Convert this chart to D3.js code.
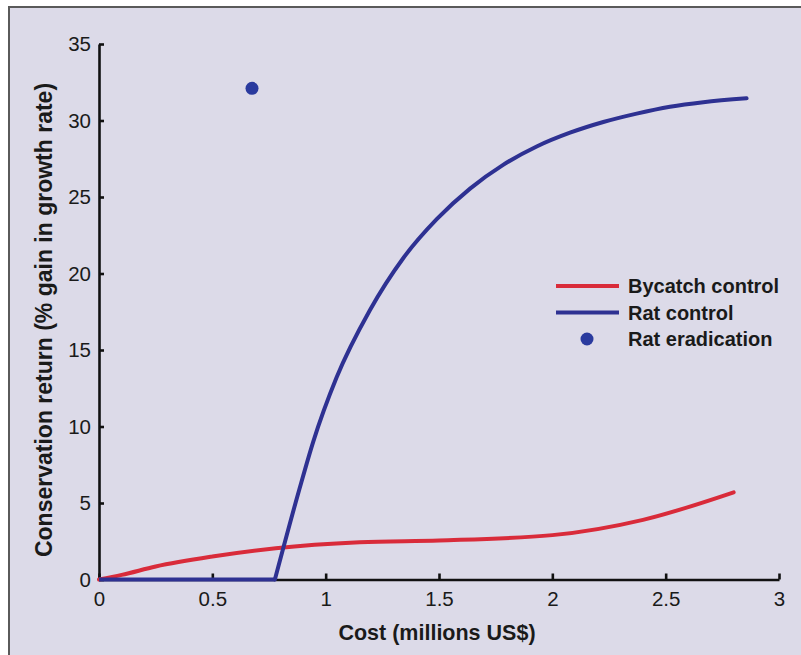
<!DOCTYPE html>
<html>
<head>
<meta charset="utf-8">
<script src="https://cdn.jsdelivr.net/npm/d3@7/dist/d3.min.js"></script>
<style>
  html, body { margin: 0; padding: 0; background: #ffffff; }
  svg { display: block; }
  text { font-family: "Liberation Sans", Arial, Helvetica, sans-serif; fill: #1a1a1a; }
</style>
</head>
<body>
<svg id="chart" width="801" height="655"></svg>
<script>
// ---- data ----
const bycatchX = [0, 0.1, 0.25, 0.5, 0.78, 1.15, 1.5, 2.0, 2.4, 2.8];
const bycatchY = [0, 0.3, 0.85, 1.5, 2.04, 2.43, 2.55, 2.9, 3.9, 5.7];

const ratFlatX = [0, 0.776];
const ratFlatY = [0, 0];
const ratX = [0.776, 0.884, 0.945, 1.048, 1.195, 1.342, 1.49, 1.637, 1.783, 1.931, 2.078, 2.225, 2.372, 2.519, 2.666, 2.857];
const ratY = [0, 5.9, 9.0, 13.2, 17.6, 21.0, 23.55, 25.55, 27.1, 28.3, 29.2, 29.9, 30.45, 30.9, 31.2, 31.45];

const eradicationX = [0.675];
const eradicationY = [32.1];

const xTicks = [0, 0.5, 1, 1.5, 2, 2.5, 3];
const xTickLabels = ["0", "0.5", "1", "1.5", "2", "2.5", "3"];
const yTicks = [0, 5, 10, 15, 20, 25, 30, 35];
const yTickLabels = ["0", "5", "10", "15", "20", "25", "30", "35"];

const seriesNames = ["Bycatch control", "Rat control", "Rat eradication"];
const xTitle = "Cost (millions US$)";
const yTitle = "Conservation return (% gain in growth rate)";

// ---- styling ----
const RED = "#d92b3a";
const BLUE = "#2e3192";
const DOT = "#2a3a9e";
const BG = "#dcdae8";

const svg = d3.select("#chart");

svg.append("rect").attr("x", 9).attr("y", 7).attr("width", 820).attr("height", 700)
  .attr("fill", BG).attr("stroke", "#5a5a5a").attr("stroke-width", 2);

const x = d3.scaleLinear().domain([0, 3]).range([99, 779]);
const y = d3.scaleLinear().domain([0, 35]).range([579.5, 44]);

const zip = (xs, ys) => xs.map((v, i) => [v, ys[i]]);

const lineSmooth = d3.line().x(d => x(d[0])).y(d => y(d[1])).curve(d3.curveMonotoneX);
const lineStraight = d3.line().x(d => x(d[0])).y(d => y(d[1]));

const xAxis = d3.axisBottom(x).tickValues(xTicks).tickFormat((d, i) => xTickLabels[i])
  .tickSizeInner(-6).tickSizeOuter(0).tickPadding(12);
const yAxis = d3.axisLeft(y).tickValues(yTicks).tickFormat((d, i) => yTickLabels[i])
  .tickSizeInner(-5).tickSizeOuter(0).tickPadding(8);

const gx = svg.append("g").attr("transform", `translate(0,${y(0)})`).call(xAxis);
const gy = svg.append("g").attr("transform", `translate(${x(0)},0)`).call(yAxis);
[gx, gy].forEach(g => {
  g.select(".domain").attr("stroke", "#111").attr("stroke-width", 2.6);
  g.selectAll(".tick line").attr("stroke", "#111").attr("stroke-width", 2.6);
  g.selectAll(".tick text").attr("font-size", 20.5).attr("fill", "#1a1a1a")
    .attr("font-family", '"Liberation Sans", Arial, sans-serif');
});

svg.append("path").datum(zip(bycatchX, bycatchY))
  .attr("d", lineSmooth).attr("fill", "none").attr("stroke", RED)
  .attr("stroke-width", 4).attr("stroke-linecap", "round");
svg.append("path").datum(zip(ratFlatX, ratFlatY))
  .attr("d", lineStraight).attr("fill", "none").attr("stroke", BLUE)
  .attr("stroke-width", 4);
svg.append("path").datum(zip(ratX, ratY))
  .attr("d", lineSmooth).attr("fill", "none").attr("stroke", BLUE)
  .attr("stroke-width", 4).attr("stroke-linecap", "round");

svg.selectAll("circle.erad").data(zip(eradicationX, eradicationY)).enter()
  .append("circle").attr("class", "erad")
  .attr("cx", d => x(d[0])).attr("cy", d => y(d[1])).attr("r", 6.5).attr("fill", DOT);

svg.append("text").attr("x", 437).attr("y", 640)
  .attr("text-anchor", "middle").attr("font-size", 21.5).attr("font-weight", "bold")
  .attr("fill", "#1a1a1a").text(xTitle);
svg.append("text").attr("transform", `translate(52,320) rotate(-90)`)
  .attr("text-anchor", "middle").attr("font-size", 23).attr("font-weight", "bold")
  .attr("fill", "#1a1a1a").text(yTitle);

const lg = svg.append("g");
const legendRows = [
  { name: seriesNames[0], type: "line", color: RED },
  { name: seriesNames[1], type: "line", color: BLUE },
  { name: seriesNames[2], type: "dot", color: DOT }
];
legendRows.forEach((r, i) => {
  const yy = 286 + i * 26.5;
  if (r.type === "line") {
    lg.append("line").attr("x1", 556).attr("x2", 619).attr("y1", yy).attr("y2", yy)
      .attr("stroke", r.color).attr("stroke-width", 4);
  } else {
    lg.append("circle").attr("cx", 587).attr("cy", yy).attr("r", 6.5).attr("fill", r.color);
  }
  lg.append("text").attr("x", 628).attr("y", yy + 7).attr("font-size", 20)
    .attr("font-weight", "bold").attr("fill", "#1a1a1a").text(r.name);
});
</script>
</body>
</html>
